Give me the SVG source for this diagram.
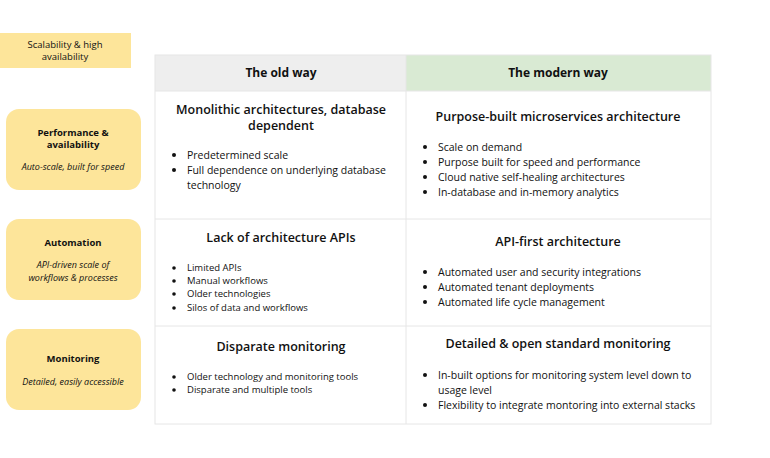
<svg xmlns="http://www.w3.org/2000/svg" width="770" height="458" viewBox="0 0 770 458">
<style>
text{font-family:"Open Sans","Noto Sans",sans-serif;fill:#111}
.cat{fill:#fde59a}
.h{font-size:12px;font-weight:bold;text-anchor:middle}
.t{font-size:12.5px;font-weight:600;text-anchor:middle}
.b{font-size:10.5px}
.s{font-size:9.5px}
.lb{font-size:9.5px;font-weight:bold;text-anchor:middle}
.li{font-size:9px;font-style:italic;text-anchor:middle}
.grid{stroke:#e6e6e6;stroke-width:1;fill:none}
circle{fill:#111}
</style>
<g id="legend"><rect x="0" y="33" width="131" height="35" class="cat"/>
<text x="65" y="48" class="s" text-anchor="middle">Scalability &amp; high</text>
<text x="65" y="60" class="s" text-anchor="middle">availability</text></g>
<g id="cat1"><rect x="6" y="109" width="135" height="81" rx="13" class="cat"/>
<text x="73" y="136" class="lb">Performance &amp;</text><text x="73" y="148" class="lb">availability</text>
<text x="73" y="170" class="li">Auto-scale, built for speed</text></g>
<g id="cat2"><rect x="6" y="219" width="135" height="81" rx="13" class="cat"/>
<text x="73" y="246" class="lb">Automation</text>
<text x="73" y="268" class="li">API-driven scale of</text><text x="73" y="280.5" class="li">workflows &amp; processes</text></g>
<g id="cat3"><rect x="6" y="329" width="135" height="81" rx="13" class="cat"/>
<text x="73" y="362" class="lb">Monitoring</text>
<text x="73" y="385" class="li">Detailed, easily accessible</text></g>
<g id="table">
<rect x="155" y="55" width="251" height="36" fill="#eeeeee"/>
<rect x="406" y="55" width="305" height="36" fill="#d9ead3"/>
<rect x="155" y="55" width="556" height="369" class="grid"/>
<path d="M406 55V424M155 91H711M155 219H711M155 326H711" class="grid"/>
<text x="281" y="77" class="h">The old way</text>
<text x="558" y="77" class="h">The modern way</text>
</g>
<g id="old1"><text x="281" y="114" class="t">Monolithic architectures, database</text><text x="281" y="130" class="t">dependent</text>
<g class="b"><circle cx="174" cy="155" r="2"/><text x="187" y="159">Predetermined scale</text>
<circle cx="174" cy="170" r="2"/><text x="187" y="174">Full dependence on underlying database</text><text x="187" y="189">technology</text></g></g>
<g id="new1"><text x="558" y="121" class="t">Purpose-built microservices architecture</text>
<g class="b"><circle cx="425" cy="147" r="2"/><text x="438" y="151">Scale on demand</text>
<circle cx="425" cy="162" r="2"/><text x="438" y="166">Purpose built for speed and performance</text>
<circle cx="425" cy="177" r="2"/><text x="438" y="181">Cloud native self-healing architectures</text>
<circle cx="425" cy="192" r="2"/><text x="438" y="196">In-database and in-memory analytics</text></g></g>
<g id="old2"><text x="281" y="242" class="t">Lack of architecture APIs</text>
<g class="s"><circle cx="174" cy="268" r="1.8"/><text x="187" y="271">Limited APIs</text>
<circle cx="174" cy="281" r="1.8"/><text x="187" y="284">Manual workflows</text>
<circle cx="174" cy="294" r="1.8"/><text x="187" y="297">Older technologies</text>
<circle cx="174" cy="308" r="1.8"/><text x="187" y="311">Silos of data and workflows</text></g></g>
<g id="new2"><text x="558" y="246" class="t">API-first architecture</text>
<g class="b"><circle cx="425" cy="272" r="2"/><text x="438" y="276">Automated user and security integrations</text>
<circle cx="425" cy="287" r="2"/><text x="438" y="291">Automated tenant deployments</text>
<circle cx="425" cy="302" r="2"/><text x="438" y="306">Automated life cycle management</text></g></g>
<g id="old3"><text x="281" y="351" class="t">Disparate monitoring</text>
<g class="s"><circle cx="174" cy="377" r="1.8"/><text x="187" y="380">Older technology and monitoring tools</text>
<circle cx="174" cy="390" r="1.8"/><text x="187" y="393">Disparate and multiple tools</text></g></g>
<g id="new3"><text x="558" y="348" class="t">Detailed &amp; open standard monitoring</text>
<g class="b"><circle cx="425" cy="375" r="2"/><text x="438" y="379">In-built options for monitoring system level down to</text><text x="438" y="394">usage level</text>
<circle cx="425" cy="405" r="2"/><text x="438" y="409">Flexibility to integrate montoring into external stacks</text></g></g>
<g id="connectors"/>
</svg>
